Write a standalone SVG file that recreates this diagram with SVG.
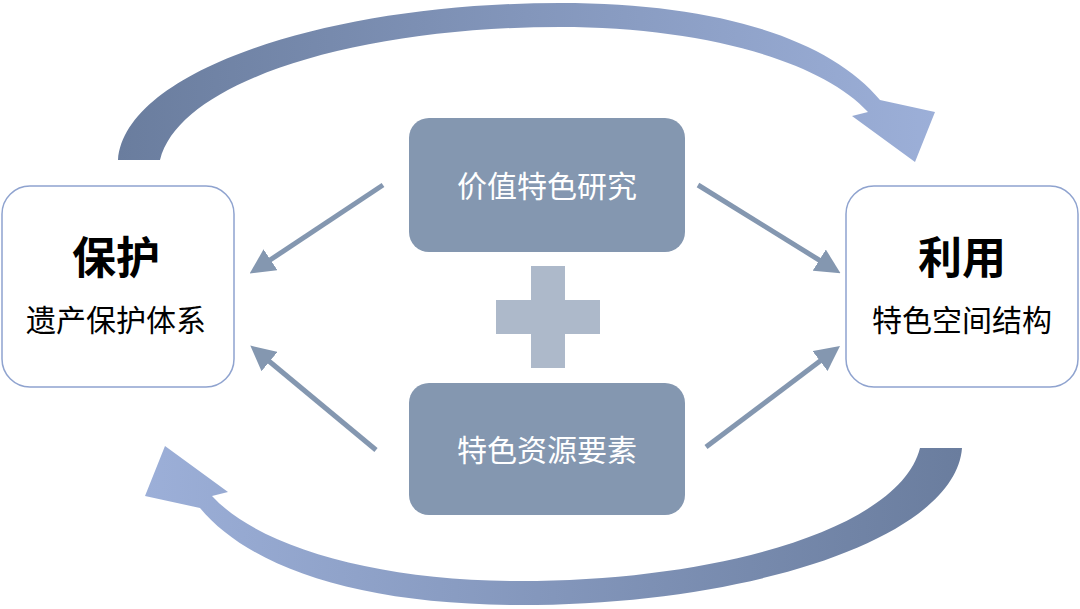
<svg xmlns="http://www.w3.org/2000/svg" width="1080" height="609" viewBox="0 0 1080 609">
<defs>
<linearGradient id="g" x1="0" y1="0" x2="1" y2="0"><stop offset="0" stop-color="#6a7d9e"/><stop offset="1" stop-color="#9cafd8"/></linearGradient>
<marker id="ah" markerWidth="5" markerHeight="5" refX="3" refY="2.5" orient="auto" markerUnits="strokeWidth"><path d="M0,0L5,2.5L0,5Z" fill="#8497b0"/></marker>
<style>
.side{fill:#fff;stroke:#8fa3cf;stroke-width:1.5}
.mid{fill:#8497b0}
.t{font-family:"Noto Sans CJK SC",sans-serif;text-anchor:middle}
.c{stroke:#8497b0;stroke-width:5;fill:none;marker-end:url(#ah)}
</style>
</defs>
<rect width="1080" height="609" fill="#fff"/>
<g id="bigarrows">
<path d="M118,160 C125,70 330,3 560,3 C720,3 830,40 880,100 L935,112 L915,162 L852,116 L868,112 C820,60 700,27 560,27 C360,27 180,80 160,160 Z" fill="url(#g)"/>
<path d="M118,160 C125,70 330,3 560,3 C720,3 830,40 880,100 L935,112 L915,162 L852,116 L868,112 C820,60 700,27 560,27 C360,27 180,80 160,160 Z" fill="url(#g)" transform="rotate(180 540 304)"/>
</g>
<g id="connectors">
<line class="c" x1="383" y1="185" x2="258" y2="268"/>
<line class="c" x1="376" y1="450" x2="258" y2="352"/>
<line class="c" x1="698" y1="185" x2="832" y2="268"/>
<line class="c" x1="706" y1="447" x2="832" y2="352"/>
</g>
<g id="left"><rect class="side" x="2" y="186" width="232" height="201" rx="28"/>
<text class="t" x="116" y="274" font-size="44" font-weight="bold">保护</text>
<text class="t" x="116" y="331" font-size="30">遗产保护体系</text></g>
<g id="right"><rect class="side" x="846" y="186" width="232" height="201" rx="28"/>
<text class="t" x="962" y="274" font-size="44" font-weight="bold">利用</text>
<text class="t" x="962" y="331" font-size="30">特色空间结构</text></g>
<g id="n1"><rect class="mid" x="409" y="118" width="276" height="134" rx="20"/>
<text class="t" x="547" y="197" font-size="30" fill="#fff">价值特色研究</text></g>
<g id="n2"><rect class="mid" x="409" y="383" width="276" height="132" rx="20"/>
<text class="t" x="547" y="461" font-size="30" fill="#fff">特色资源要素</text></g>
<g id="plus" fill="#adb9ca"><rect x="531" y="266" width="34" height="102"/><rect x="496" y="300" width="104" height="34"/></g>
</svg>
